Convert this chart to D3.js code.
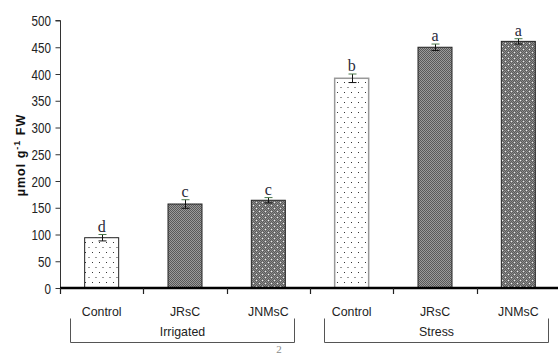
<!DOCTYPE html>
<html>
<head>
<meta charset="utf-8">
<script src="https://cdn.jsdelivr.net/npm/d3@7/dist/d3.min.js"></script>
<style>
  html, body { margin: 0; padding: 0; background: #fff; }
  svg { display: block; }
</style>
</head>
<body>
<svg id="chart" width="558" height="356"></svg>
<script>
// Proline content by treatment and water regime
const categories = ["Control", "JRsC", "JNMsC", "Control", "JRsC", "JNMsC"];
const groups = ["Irrigated", "Stress"];
const values = [94, 157, 164, 392, 450, 461];
const errors = [6, 8, 5, 8, 6, 5];
const letters = ["d", "c", "c", "b", "a", "a"];
const fills = ["dots", "checker", "dotgrid", "dots", "checker", "dotgrid"];
const yTicks = [0, 50, 100, 150, 200, 250, 300, 350, 400, 450, 500];

const SANS = '"Liberation Sans", Arial, sans-serif';
const SERIF = '"Liberation Serif", "Times New Roman", serif';

const svg = d3.select("#chart");
const baseY = 288;

const y = d3.scaleLinear().domain([0, 500]).range([baseY, 20.5]);
const x = d3.scaleBand().domain(d3.range(categories.length)).range([60, 560]).paddingInner(0).paddingOuter(0);
const barW = 34;

// squeeze a text element horizontally to a fraction of its natural width
function condense(sel, k) {
  sel.each(function () {
    const w = this.getComputedTextLength();
    d3.select(this).attr("textLength", w * k).attr("lengthAdjust", "spacingAndGlyphs");
  });
}

// fill patterns
const defs = svg.append("defs");
const pDots = defs.append("pattern").attr("id", "dots").attr("patternUnits", "userSpaceOnUse")
  .attr("width", 7).attr("height", 10);
pDots.append("rect").attr("width", 7).attr("height", 10).attr("fill", "#fff");
pDots.append("rect").attr("x", 1).attr("y", 2).attr("width", 1).attr("height", 1).attr("fill", "#333");
pDots.append("rect").attr("x", 4.5).attr("y", 7).attr("width", 1).attr("height", 1).attr("fill", "#333");

const pCheck = defs.append("pattern").attr("id", "checker").attr("patternUnits", "userSpaceOnUse")
  .attr("width", 2).attr("height", 2);
pCheck.append("rect").attr("width", 2).attr("height", 2).attr("fill", "#9a9a9a");
pCheck.append("rect").attr("width", 1).attr("height", 1).attr("fill", "#585858");
pCheck.append("rect").attr("x", 1).attr("y", 1).attr("width", 1).attr("height", 1).attr("fill", "#585858");

const pGrid = defs.append("pattern").attr("id", "dotgrid").attr("patternUnits", "userSpaceOnUse")
  .attr("width", 6).attr("height", 6);
pGrid.append("rect").attr("width", 6).attr("height", 6).attr("fill", "#8a8a8a");
[[0,0],[2,0],[4,0],[1,1],[3,1],[5,1],[0,2],[2,2],[4,2],[1,3],[3,3],[5,3],[0,4],[2,4],[4,4],[1,5],[3,5],[5,5]]
  .forEach(([px, py]) => pGrid.append("rect").attr("x", px).attr("y", py).attr("width", 1).attr("height", 1).attr("fill", "#5c5c5c"));
pGrid.append("rect").attr("x", 1).attr("y", 1).attr("width", 1).attr("height", 1).attr("fill", "#f0f0f0");
pGrid.append("rect").attr("x", 4).attr("y", 4).attr("width", 1).attr("height", 1).attr("fill", "#f0f0f0");

// y axis
const yAxis = d3.axisLeft(y).tickValues(yTicks).tickSize(5).tickPadding(4.5).tickFormat(d3.format("d"));
const gy = svg.append("g").attr("transform", "translate(60.5,0)")
  .attr("font-family", SANS).attr("font-size", 14).call(yAxis);
gy.attr("font-family", SANS).attr("font-size", 14);
gy.select(".domain").attr("stroke", "#333").attr("d", `M-5,${y(500)}H0V${baseY}`);
gy.selectAll(".tick line").attr("stroke", "#333");
gy.selectAll(".tick text").attr("fill", "#222").attr("dy", "0.36em");
condense(gy.selectAll(".tick text"), 0.83);

// bars
const bars = svg.append("g");
bars.selectAll("rect").data(values).join("rect")
  .attr("x", (d, i) => x(i) + x.bandwidth() / 2 - barW / 2)
  .attr("y", d => y(d))
  .attr("width", barW)
  .attr("height", d => baseY - y(d))
  .attr("fill", (d, i) => `url(#${fills[i]})`)
  .attr("stroke", (d, i) => i === 3 ? "#999" : "#222")
  .attr("stroke-width", (d, i) => i === 3 ? 1.5 : 1);

// error bars
const eb = svg.append("g").attr("stroke", "#111").attr("stroke-width", 1);
values.forEach((v, i) => {
  const cx = Math.round(x(i) + x.bandwidth() / 2) + 0.5;
  const top = y(v + errors[i]), bot = y(v - errors[i]);
  eb.append("line").attr("x1", cx).attr("x2", cx).attr("y1", top).attr("y2", bot);
  eb.append("line").attr("x1", cx - 4).attr("x2", cx + 4).attr("y1", top).attr("y2", top).attr("stroke", "#4a7a4a");
  eb.append("line").attr("x1", cx - 4).attr("x2", cx + 4).attr("y1", bot).attr("y2", bot);
});

// significance letters
svg.append("g").selectAll("text").data(letters).join("text")
  .attr("x", (d, i) => x(i) + x.bandwidth() / 2)
  .attr("y", (d, i) => y(values[i] + errors[i]) - 3)
  .attr("text-anchor", "middle")
  .attr("font-family", SERIF)
  .attr("font-size", 16)
  .attr("fill", "#2a2a3a")
  .text(d => d);

// baseline and category ticks
svg.append("line").attr("x1", 60).attr("x2", 558).attr("y1", baseY).attr("y2", baseY)
  .attr("stroke", "#000").attr("stroke-width", 2.5);
const catTicks = d3.range(categories.length).map(i => x(i));
svg.append("g").selectAll("line").data(catTicks).join("line")
  .attr("x1", d => Math.round(d) + 0.5).attr("x2", d => Math.round(d) + 0.5)
  .attr("y1", baseY).attr("y2", baseY + 6).attr("stroke", "#222").attr("stroke-width", 1.2);

// category labels
svg.append("g").selectAll("text").data(categories).join("text")
  .attr("x", (d, i) => x(i) + x.bandwidth() / 2)
  .attr("y", 315.5)
  .attr("text-anchor", "middle")
  .attr("font-family", SANS)
  .attr("font-size", 13)
  .attr("fill", "#222")
  .text(d => d)
  .call(condense, 0.95);

// group brackets
const bracketSpans = [[70.5, 294.5], [324.5, 548.5]];
const br = svg.append("g").attr("fill", "none").attr("stroke", "#555").attr("stroke-width", 1);
bracketSpans.forEach(([a, b]) => {
  br.append("path").attr("d", `M${a},318.5V342.5H${b}V318.5`);
});
svg.append("g").selectAll("text").data(groups).join("text")
  .attr("x", (d, i) => (bracketSpans[i][0] + bracketSpans[i][1]) / 2)
  .attr("y", 335.5)
  .attr("text-anchor", "middle")
  .attr("font-family", SANS)
  .attr("font-size", 13)
  .attr("fill", "#222")
  .text(d => d)
  .call(condense, 0.95);

// y axis title
const yt = svg.append("text")
  .attr("transform", "translate(24.5,155) rotate(-90)")
  .attr("text-anchor", "middle")
  .attr("font-family", SANS)
  .attr("font-weight", "bold")
  .attr("font-size", 12.5)
  .attr("letter-spacing", 1)
  .attr("fill", "#111");
yt.append("tspan").text("µmol g");
yt.append("tspan").attr("dy", -5).attr("font-size", 9).text("-1");
yt.append("tspan").attr("dy", 5).text(" FW");

// page number at the lower edge
svg.append("text").attr("x", 279).attr("y", 353)
  .attr("text-anchor", "middle")
  .attr("font-family", SERIF)
  .attr("font-size", 11).attr("fill", "#888").text("2");
</script>
</body>
</html>
